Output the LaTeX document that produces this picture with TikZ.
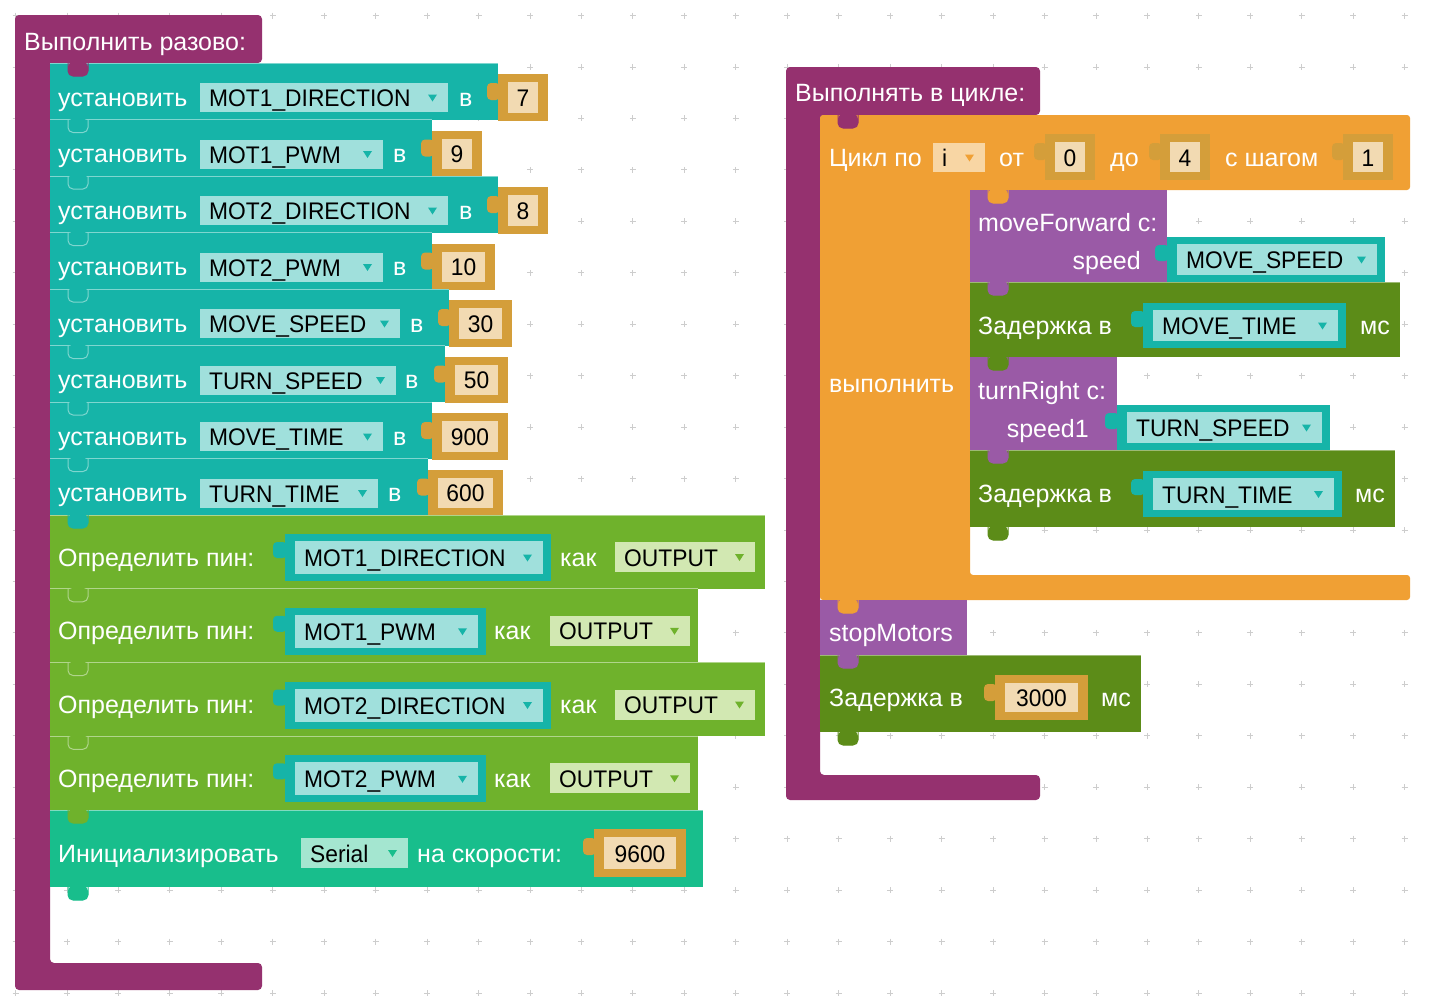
\documentclass[tikz,border=0pt]{standalone}
\usepackage{fontspec}
\setmainfont{Liberation Sans}
\newfontfamily\valfont[FakeStretch=0.95]{Liberation Sans}

\definecolor{hatc}{RGB}{149,49,111}
\definecolor{setc}{RGB}{22,180,168}
\definecolor{fieldc}{RGB}{160,224,220}
\definecolor{numc}{RGB}{212,158,58}
\definecolor{numin}{RGB}{242,218,178}
\definecolor{pinc}{RGB}{111,178,44}
\definecolor{pinfield}{RGB}{210,232,178}
\definecolor{serc}{RGB}{24,190,140}
\definecolor{serfield}{RGB}{164,230,208}
\definecolor{loopc}{RGB}{240,160,52}
\definecolor{loopfield}{RGB}{248,214,164}
\definecolor{procc}{RGB}{154,90,166}
\definecolor{delc}{RGB}{92,140,24}
\definecolor{gridc}{RGB}{205,205,205}

% поле со списком: имя, x1, y1, x2, y2, заливка, цвет стрелки, текст
\newcommand{\dropfield}[8]{%
  \fill[#6] (#2,#3) rectangle (#4,#5);
  \node[val, anchor=base west] (#1) at (#2+9,{(#3+#5)/2+9}) {#8};
  \fill[#7] (#4-20,{(#3+#5)/2-3}) -- ++(9,0) -- ++(-4.5,7) -- cycle;
}
% числовой блок: имя, x1, y1, x2, y2, цвет, число
\newcommand{\numbox}[7]{%
  \fill[#6, rounded corners=4] (#2-11,#3+9) rectangle (#2+2,#3+26);
  \fill[#6] (#2,#3) rectangle (#4,#5);
  \fill[numin] (#2+10,#3+8) rectangle (#4-10,#5-8);
  \node[val, anchor=base] (#1) at ({(#2+#4)/2},{(#3+#5)/2+9}) {#7};
}
% блок переменной: имя, x1, y1, x2, y2, текст
\newcommand{\varbox}[6]{%
  \fill[setc, rounded corners=4] (#2-12,#3+8) rectangle (#2+2,#3+24);
  \fill[setc] (#2,#3) rectangle (#4,#5);
  \dropfield{#1}{#2+10}{#3+7}{#4-8}{#5-7}{fieldc}{setc}{#6}
}

\begin{document}
\begin{tikzpicture}[x=1pt, y=-1pt,
    txt/.style={font=\fontsize{25}{29}\selectfont, inner sep=0pt, text=white},
    val/.style={font=\valfont\fontsize{24}{28}\selectfont, inner sep=0pt, text=black},
    hiline/.style={line width=1pt}]
  \fill[white] (0,0) rectangle (1440,999);
  \useasboundingbox (0,0) rectangle (1440,999);
  % точки сетки
  \foreach \gx in {0,...,27}
    \foreach \gy in {0,...,19}
      \draw[gridc, line width=0.9pt] (15.5+51.45*\gx-3,15.5+51.45*\gy) -- ++(6,0)
        (15.5+51.45*\gx,15.5+51.45*\gy-3) -- ++(0,6);

  % Выполнить разово
  \fill[hatc, rounded corners=4] (15,990) -- (15,15) -- (262,15) -- (262,63) -- (50,63)
    -- (50,963) -- (262,963) -- (262,990) -- cycle;
  \node[txt, anchor=base west] (setup) at (24,50) {Выполнить разово:};

  \foreach \vname/\fr/\vx/\tr/\nr/\num [count=\i] in {
      MOT1\_DIRECTION/448/459/498/548/7,
      MOT1\_PWM/383/393/432/482/9,
      MOT2\_DIRECTION/448/459/498/548/8,
      MOT2\_PWM/383/393/432/495/10,
      MOVE\_SPEED/400/410/449/512/30,
      TURN\_SPEED/396/405/445/508/50,
      MOVE\_TIME/383/393/432/508/900,
      TURN\_TIME/378/388/428/503/600} {
    \pgfmathsetmacro\yt{63+56.5*(\i-1)}
    \fill[setc] (50,\yt) rectangle (\tr,\yt+56.5);
    \draw[setc!55!white, hiline] (50,\yt) -- (\tr,\yt);
    \node[txt, anchor=base west] (set\i) at (58,\yt+43) {установить};
    \dropfield{var\i}{200}{\yt+20}{\fr}{\yt+49}{fieldc}{setc}{\vname}
    \node[txt, anchor=base west] (in\i) at (\vx,\yt+43) {в};
    \numbox{num\i}{\tr}{\yt+11}{\nr}{\yt+57.5}{numc}{\num}
  }

  \foreach \vname/\vr/\kx/\ox/\br [count=\i] in {
      MOT1\_DIRECTION/551/560/615/765,
      MOT1\_PWM/486/494/550/698,
      MOT2\_DIRECTION/551/560/615/765,
      MOT2\_PWM/486/494/550/698} {
    \pgfmathsetmacro\yt{515+73.75*(\i-1)}
    \fill[pinc] (50,\yt) rectangle (\br,\yt+73.75);
    \draw[pinc!55!white, hiline] (50,\yt) -- (\br,\yt);
    \node[txt, anchor=base west] (pin\i) at (58,\yt+51) {Определить пин:};
    \varbox{pvar\i}{285}{\yt+19}{\vr}{\yt+66}{\vname}
    \node[txt, anchor=base west] (kak\i) at (\kx,\yt+51) {как};
    \dropfield{out\i}{\ox}{\yt+27}{\ox+140}{\yt+57}{pinfield}{pinc}{OUTPUT}
  }

  \fill[serc] (50,810) rectangle (703,887);
  \draw[serc!55!white, hiline] (50,810) -- (703,810);
  \node[txt, anchor=base west] (init) at (58,862) {Инициализировать};
  \dropfield{port}{301}{838}{408}{868}{serfield}{serc}{Serial}
  \node[txt, anchor=base west] (rate) at (417,862) {на скорости:};
  \numbox{baud}{594}{829}{686}{877}{numc}{9600}

  % Выполнять в цикле
  \fill[hatc, rounded corners=4] (786,800) -- (786,67) -- (1040,67) -- (1040,115) -- (820,115)
    -- (820,775) -- (1040,775) -- (1040,800) -- cycle;
  \node[txt, anchor=base west] (loopmain) at (795,101) {Выполнять в цикле:};

  \fill[loopc, rounded corners=3] (820,600) -- (820,115) -- (1410,115) -- (1410,190) -- (970,190)
    -- (970,575) -- (1410,575) -- (1410,600) -- cycle;
  \node[txt, anchor=base west] (forlbl) at (829,166) {Цикл по};
  \dropfield{ivar}{933}{143}{985}{172}{loopfield}{loopc}{i}
  \node[txt, anchor=base west] (fromlbl) at (999,166) {от};
  \numbox{from}{1045}{134}{1095}{180}{numc}{0}
  \node[txt, anchor=base west] (tolbl) at (1110,166) {до};
  \numbox{to}{1160}{134}{1210}{180}{numc}{4}
  \node[txt, anchor=base west] (bylbl) at (1225,166) {с шагом};
  \numbox{by}{1343}{134}{1393}{180}{numc}{1}
  \node[txt, anchor=base west] (dolbl) at (829,392) {выполнить};

  \fill[procc] (970,190) rectangle (1167,282);
  \node[txt, anchor=base west] (fwd) at (978,231) {moveForward с:};
  \node[txt, anchor=base east] (fwdarg) at (1141,269) {speed};
  \varbox{fwdvar}{1167}{237}{1385}{282}{MOVE\_SPEED}

  \fill[delc] (970,282) rectangle (1400,357);
  \draw[delc!60!white, hiline] (970,282) -- (1400,282);
  \node[txt, anchor=base west] (wait1) at (978,334) {Задержка в};
  \varbox{wait1var}{1143}{303}{1346}{348}{MOVE\_TIME}
  \node[txt, anchor=base west] (ms1) at (1360,334) {мс};

  \fill[procc] (970,357) rectangle (1117,450);
  \node[txt, anchor=base west] (turn) at (978,399) {turnRight с:};
  \node[txt, anchor=base east] (turnarg) at (1089,437) {speed1};
  \varbox{turnvar}{1117}{405}{1330}{450}{TURN\_SPEED}

  \fill[delc] (970,450) rectangle (1395,527);
  \draw[delc!60!white, hiline] (970,450) -- (1395,450);
  \node[txt, anchor=base west] (wait2) at (978,502) {Задержка в};
  \varbox{wait2var}{1143}{471}{1342}{517}{TURN\_TIME}
  \node[txt, anchor=base west] (ms2) at (1355,502) {мс};

  \fill[procc] (820,600) rectangle (967,655);
  \node[txt, anchor=base west] (stop) at (829,641) {stopMotors};

  \fill[delc] (820,655) rectangle (1141,732);
  \draw[delc!60!white, hiline] (820,655) -- (1141,655);
  \node[txt, anchor=base west] (wait3) at (829,706) {Задержка в};
  \numbox{pause}{995}{675}{1088}{720}{numc}{3000}
  \node[txt, anchor=base west] (ms3) at (1101,706) {мс};

  % выступы соединений
  \foreach \tx/\ty/\tc/\tl in {68/63/hatc/hatc, 68/119.5/setc/setc!55!white,
      68/176/setc/setc!55!white, 68/232.5/setc/setc!55!white, 68/289/setc/setc!55!white,
      68/345.5/setc/setc!55!white, 68/402/setc/setc!55!white, 68/458.5/setc/setc!55!white,
      68/515/setc/setc, 68/588.75/pinc/pinc!55!white, 68/662.5/pinc/pinc!55!white,
      68/736.25/pinc/pinc!55!white, 68/810/pinc/pinc, 68/887/serc/serc,
      838/115/hatc/hatc, 988/190/loopc/loopc, 988/282/procc/procc, 988/357/delc/delc,
      988/450/procc/procc, 988/527/delc/delc, 838/600/loopc/loopc, 838/655/procc/procc,
      838/732/delc/delc} {
    \fill[\tc, rounded corners=5] (\tx,\ty-1) -- (\tx,\ty+13) -- (\tx+20,\ty+13) -- (\tx+20,\ty-1) -- cycle;
    \draw[\tl, hiline, rounded corners=5] (\tx,\ty) -- (\tx,\ty+13) -- (\tx+20,\ty+13) -- (\tx+20,\ty);
  }
\end{tikzpicture}
\end{document}
